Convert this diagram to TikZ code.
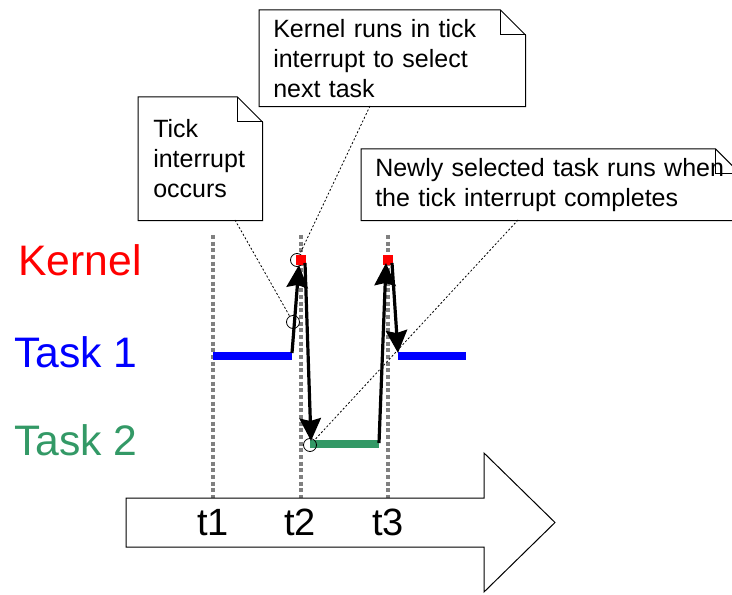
\documentclass[tikz,border=0pt]{standalone}
\usepackage{fontspec}
\setmainfont{Liberation Sans}
\usetikzlibrary{arrows.meta}
\definecolor{kred}{RGB}{255,0,0}
\definecolor{tblue}{RGB}{0,0,255}
\definecolor{tgreen}{RGB}{51,153,102}
\definecolor{gridgray}{RGB}{128,128,128}
\begin{document}
\begin{tikzpicture}[x=0.75pt,y=-0.75pt,
  rowlabel/.style={font=\fontsize{32}{36}\selectfont, anchor=west, inner sep=0pt},
  ticklabel/.style={font=\fontsize{28.5}{32}\selectfont, inner sep=0pt},
  note/.style={rectangle, anchor=north west, align=left, inner ysep=0pt, font=\fontsize{18.75}{22.5}\selectfont},
  notepath/.style={draw=black, line width=0.75pt},
  gridline/.style={draw=gridgray, line width=2.6pt, dash pattern=on 3pt off 2pt},
  pointer/.style={draw=black, line width=0.6pt, dash pattern=on 1.5pt off 1.5pt},
  ring/.style={circle, draw=black, line width=0.6pt, minimum size=9.75pt, inner sep=0pt},
  kblock/.style={rectangle, fill=kred, minimum size=7.5pt, inner sep=0pt},
  bar/.style={line width=6pt},
  flow/.style={draw=black, line width=2.4pt, -{Stealth[length=17pt,width=16pt,inset=2pt]}},
]
\useasboundingbox (0,0) rectangle (732,595);

% row labels
\node[rowlabel, text=kred] (lk) at (18,260) {Kernel};
\node[rowlabel, text=tblue] (l1) at (14,352) {Task 1};
\node[rowlabel, text=tgreen] (l2) at (14,440) {Task 2};

% grid lines
\coordinate (g1t) at (213,235); \coordinate (g1b) at (213,498);
\coordinate (g2t) at (301,235); \coordinate (g2b) at (301,498);
\coordinate (g3t) at (388,235); \coordinate (g3b) at (388,498);
\draw[gridline] (g1t) -- (g1b);
\draw[gridline] (g2t) -- (g2b);
\draw[gridline] (g3t) -- (g3b);

% time axis arrow
\draw[line width=0.75pt, fill=white] (126,498) -- (484,498) -- (484,453) -- (555,522.5) -- (484,592) -- (484,547) -- (126,547) -- cycle;
\node[ticklabel] (t1) at (213,522.5) {t1};
\node[ticklabel] (t2) at (300,522.5) {t2};
\node[ticklabel] (t3) at (388,522.5) {t3};

% task bars
\coordinate (b1s) at (213,356); \coordinate (b1e) at (292,356);
\coordinate (b2s) at (398,356); \coordinate (b2e) at (466,356);
\coordinate (b3s) at (310,444); \coordinate (b3e) at (379,444);
\draw[bar, tblue] (b1s) -- (b1e);
\draw[bar, tblue] (b2s) -- (b2e);
\draw[bar, tgreen] (b3s) -- (b3e);

% circles
\node[ring] (c1) at (293,322) {};
\node[ring] (c2) at (297,260) {};
\node[ring] (c3) at (310,445) {};

% kernel blocks
\node[kblock] (k1) at (301,260) {};
\node[kblock] (k2) at (388,260) {};

% flow arrows
\coordinate (a1s) at (292,353); \coordinate (a1e) at (299,265);
\coordinate (a2s) at (305,263); \coordinate (a2e) at (311,441);
\coordinate (a3s) at (379,443); \coordinate (a3e) at (386,263);
\coordinate (a4s) at (392,263); \coordinate (a4e) at (398,353);
\draw[flow] (a1s) -- (a1e);
\draw[flow] (a2s) -- (a2e);
\draw[flow] (a3s) -- (a3e);
\draw[flow] (a4s) -- (a4e);

% notes
\node[note, inner xsep=11.25pt, text width=70.5pt, minimum width=93pt, minimum height=92.25pt] (tick) at (138,97) {Tick\\interrupt\\occurs};
\node[note, inner xsep=10.5pt, text width=178.5pt, minimum width=199.5pt, minimum height=72pt] (kern) at (259,10) {Kernel runs in tick\\interrupt to select\\next task};
\node[note, inner xsep=10.5pt, text width=263.25pt, minimum width=284.25pt, minimum height=53.25pt] (newly) at (361,149) {Newly selected task runs when\\the tick interrupt completes};
\foreach \n in {tick,kern,newly}{
  \draw[notepath] (\n.south west) -- (\n.north west) -- ([xshift=-18.75pt]\n.north east) -- ([yshift=-18.75pt]\n.north east) -- (\n.south east) -- cycle;
  \draw[notepath] ([xshift=-18.75pt]\n.north east) -- ([xshift=-18.75pt,yshift=-18.75pt]\n.north east) -- ([yshift=-18.75pt]\n.north east);
}

% pointers
\coordinate (p1) at (235,220);
\coordinate (p2) at (370,106);
\coordinate (p3) at (518,220);
\draw[pointer] (p1) -- (c1);
\draw[pointer] (p2) -- (c2);
\draw[pointer] (p3) -- (c3);
\end{tikzpicture}
\end{document}
